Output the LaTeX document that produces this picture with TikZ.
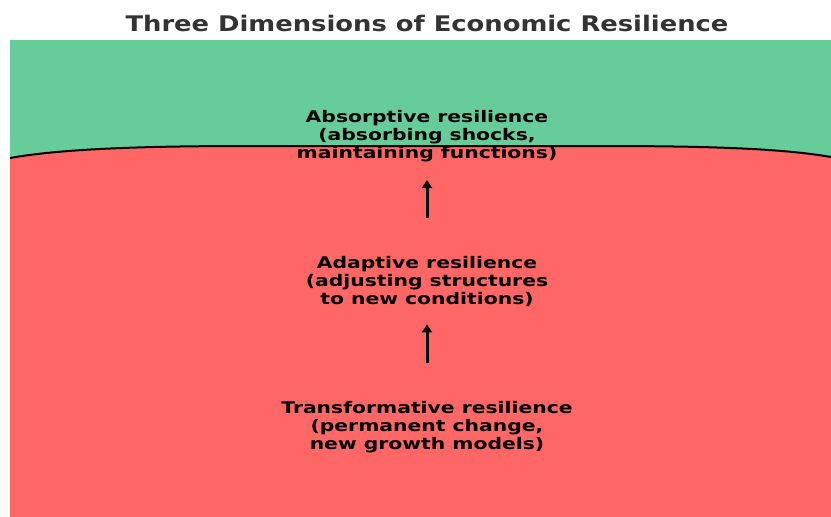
\documentclass[tikz,border=0pt]{standalone}
\usepackage{fontspec}
\usetikzlibrary{arrows.meta}
\newfontfamily\lblfont[FakeStretch=1.27]{DejaVu Sans Bold}
\newfontfamily\ttlfont[FakeStretch=1.2]{DejaVu Sans Bold}
\definecolor{absgreen}{HTML}{66CC99}
\definecolor{trred}{HTML}{FF6666}
\definecolor{ttlgray}{HTML}{333333}
\tikzset{
  lvl/.style={align=center, inner sep=0pt, font=\lblfont\fontsize{16}{18}\selectfont, text=black},
  ttl/.style={inner sep=0pt, font=\ttlfont\fontsize{21.5}{24}\selectfont, text=ttlgray},
  up/.style={-{Triangle[length=8pt, width=10pt]}, line width=3pt, black},
}
\begin{document}
\begin{tikzpicture}[x=1pt, y=-1pt]
\useasboundingbox (0,0) rectangle (831,517);
% bands
\fill[absgreen] (10,40) rectangle (831,165);
\fill[trred] (10,517) -- (10,158) .. controls (60,149) and (140,146) .. (250,146)
  -- (600,146) .. controls (700,146) and (780,148) .. (831,157) -- (831,517) -- cycle;
\draw[line width=2pt, black] (10,158) .. controls (60,149) and (140,146) .. (250,146)
  -- (600,146) .. controls (700,146) and (780,148) .. (831,157);
\node[ttl] (title) at (427,23.5) {Three Dimensions of Economic Resilience};
\node[lvl] (absorb) at (427,136) {Absorptive resilience\\(absorbing shocks,\\maintaining functions)};
\node[lvl] (adapt) at (427,281) {Adaptive resilience\\(adjusting structures\\to new conditions)};
\node[lvl] (transf) at (427,427) {Transformative resilience\\(permanent change,\\new growth models)};
\draw[up, shorten <=38pt, shorten >=18pt] (adapt) -- (absorb);
\draw[up, shorten <=38pt, shorten >=18pt] (transf) -- (adapt);
\end{tikzpicture}
\end{document}
